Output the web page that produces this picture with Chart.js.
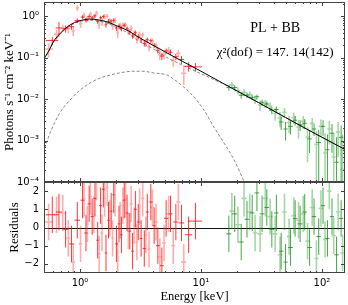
<!DOCTYPE html>
<html><head><meta charset="utf-8">
<script src="https://cdn.jsdelivr.net/npm/chart.js@4.4.1/dist/chart.umd.min.js"></script>
<style>
html,body{margin:0;padding:0;background:#fff;}
#wrap{position:relative;width:348px;height:305px;overflow:hidden;background:#fff;}
#c1{position:absolute;left:0;top:0;width:348px;height:192px;}
#c2{position:absolute;left:0;top:178px;width:348px;height:127px;}
</style></head><body>
<div id="wrap">
<canvas id="c2" width="348" height="127"></canvas>
<canvas id="c1" width="348" height="192"></canvas>
</div>
<script>
// ---------------- tick values / labels ----------------
const xTickValues = [1, 10, 100];
const xTickLabels = ['10\u2070', '10\u00b9', '10\u00b2'];
const yTickValues = [1e-4, 1e-3, 1e-2, 1e-1, 1];
const yTickLabels = ['10\u207b\u2074', '10\u207b\u00b3', '10\u207b\u00b2', '10\u207b\u00b9', '10\u2070'];
const resTickValues = [-2, -1, 0, 1, 2];

// ---------------- model curves ----------------
const modelE     = [0.5, 0.55, 0.6, 0.7, 0.8, 0.9, 1.0, 1.2, 1.4, 1.7, 2.0, 2.5, 3.0, 4.0, 5.0, 7.0, 10, 15, 20, 30, 50, 70, 100, 155];
const modelTotal = [0.092, 0.143, 0.236, 0.41, 0.574, 0.70, 0.78, 0.85, 0.82, 0.72, 0.59, 0.447, 0.32, 0.20, 0.14, 0.082, 0.047, 0.0246, 0.0156, 0.0082, 0.0036, 0.0021, 0.0012, 0.00061];
const modelPL    = [0.088, 0.137, 0.226, 0.39, 0.55, 0.67, 0.75, 0.80, 0.77, 0.67, 0.54, 0.39, 0.26, 0.165, 0.108, 0.066, 0.041, 0.0237, 0.0153, 0.0081, 0.0036, 0.0021, 0.0012, 0.00061];
const bbE = [0.494, 0.565, 0.68, 0.827, 1.0, 1.21, 1.46, 1.77, 2.14, 2.74, 3.31, 4.01, 5.24, 5.98, 7.23, 8.76, 10.6, 12.8, 15.5, 18.8, 21.1, 22.7, 25];
const bbF = [5.0e-4, 1.5e-3, 4.6e-3, 9.5e-3, 0.0165, 0.0244, 0.032, 0.038, 0.043, 0.047, 0.047, 0.043, 0.038, 0.030, 0.0194, 0.0112, 0.0054, 0.0021, 8.7e-4, 3.4e-4, 1.65e-4, 1.0e-4, 4e-5];

// ---------------- data: dark red ----------------
const redE   = [0.59,0.67,0.76,0.85,0.95,1.05,1.12,1.19,1.26,1.33,1.40,1.48,1.56,1.64,1.72,1.81,1.90,2.00,2.10,2.20,2.32,2.45,2.58,2.72,2.87,3.03,3.20,3.40,3.60,3.85,4.10,4.40,4.75,5.15,5.60,6.20,6.90,7.90,9.00];
const redDE  = [0.07,0.04,0.04,0.04,0.05,0.04,0.035,0.035,0.035,0.035,0.035,0.04,0.04,0.04,0.04,0.045,0.045,0.05,0.05,0.05,0.06,0.06,0.065,0.07,0.075,0.08,0.085,0.1,0.1,0.12,0.13,0.15,0.17,0.2,0.22,0.3,0.35,0.55,1.2];
const redF   = [0.26,0.52,0.50,0.56,0.78,0.95,0.80,0.98,0.91,1.02,0.75,0.92,0.98,0.62,0.755,0.76,0.79,0.52,0.58,0.50,0.60,0.51,0.42,0.335,0.40,0.32,0.266,0.22,0.27,0.257,0.198,0.15,0.109,0.145,0.135,0.105,0.09,0.062,0.060];
const redErr = [0.06,0.2,0.1,0.09,0.1,0.1,0.1,0.1,0.1,0.11,0.1,0.1,0.1,0.09,0.1,0.09,0.09,0.08,0.08,0.07,0.07,0.06,0.06,0.05,0.05,0.045,0.04,0.035,0.035,0.03,0.028,0.025,0.022,0.02,0.02,0.018,0.02,0.016,0.014];
const redRes = [0.7,0.85,-0.1,-0.9,0.4,1.5,-0.3,1.3,0.6,1.6,-0.7,1.2,2.1,-1.4,0.4,0.9,1.8,-0.9,0.2,-0.4,1.5,0.8,-0.2,-1.3,1.0,0.3,-0.6,-1.15,0.85,1.4,0.1,-1.0,-2.1,0.5,0.75,0.3,0.25,-0.4,0.35];

// ---------------- data: light red ----------------
const pinkE   = [0.55,0.64,0.72,0.80,0.88,0.95,1.01,1.08,1.15,1.22,1.30,1.37,1.44,1.52,1.60,1.68,1.76,1.86,1.95,2.05,2.15,2.26,2.38,2.51,2.65,2.80,2.95,3.11,3.30,3.50,3.72,3.97,4.25,4.57,4.95,5.40,5.90,6.50,7.20];
const pinkDE  = [0.05,0.03,0.03,0.03,0.03,0.03,0.03,0.03,0.035,0.035,0.035,0.035,0.035,0.04,0.04,0.04,0.04,0.045,0.045,0.05,0.05,0.055,0.06,0.065,0.07,0.07,0.075,0.08,0.09,0.1,0.11,0.12,0.13,0.15,0.17,0.2,0.22,0.25,0.35];
const pinkF   = [0.161,0.37,0.52,0.50,0.447,1.59,0.66,1.055,0.87,1.105,0.95,1.205,0.62,0.74,0.984,0.994,0.765,0.583,0.80,0.395,0.585,0.618,0.62,0.43,0.52,0.38,0.28,0.37,0.355,0.23,0.18,0.25,0.195,0.117,0.12,0.15,0.085,0.128,0.042];
const pinkErr = [0.06,0.1,0.1,0.12,0.12,0.25,0.14,0.15,0.14,0.15,0.15,0.15,0.13,0.15,0.14,0.12,0.13,0.12,0.12,0.1,0.1,0.09,0.09,0.08,0.08,0.07,0.06,0.06,0.05,0.05,0.04,0.04,0.035,0.03,0.03,0.03,0.025,0.025,0.02];
const pinkRes = [0.3,0.7,0.8,-0.6,-1.9,3.4,-0.9,1.6,0.2,1.7,0.7,2.5,-1.45,-0.3,1.6,2.2,0.5,-0.6,1.6,-1.8,0.4,1.2,1.55,-0.2,1.3,0.1,-0.8,1.15,1.6,-0.4,-1.2,1.1,0.3,-1.6,-0.85,0.75,-1.0,1.4,-1.9];

// ---------------- data: dark green ----------------
const grnE   = [17,19,21.5,24,26.5,29,32,35,38.5,42,46,50,55,60,66,72,79,86,94,102,111,121,132,144];
const grnDE  = [0.8,0.9,1.0,1.1,1.2,1.3,1.4,1.5,1.7,1.8,2,2,2.5,2.5,3,3,3.5,3.5,4,4,4.5,5,5.5,6];
const grnF   = [0.019,0.019,0.0124,0.0125,0.011,0.0114,0.0084,0.0076,0.0054,0.0056,0.0028,0.0019,0.0022,0.0031,0.0024,0.0026,0.0011,0.0019,0.0009,0.0022,0.0006,0.0015,0.0003,0.0012];
const grnErr = [0.003,0.0028,0.0022,0.0018,0.0016,0.0014,0.0013,0.0012,0.0011,0.001,0.001,0.0009,0.0008,0.0008,0.0007,0.0007,0.0006,0.0006,0.0009,0.0009,0.0008,0.001,0.0009,0.0011];
const grnRes = [-0.35,0.75,-0.8,0.45,0.8,1.9,0.75,1.1,-0.1,0.8,-1.3,-1.9,-1.1,0.5,0.2,0.85,-1.1,0.6,-0.5,1.2,-0.6,0.6,-1.5,0.5];

// ---------------- data: light green ----------------
const lgrnE   = [18,20.2,22.7,25.3,28,30.8,34,37.3,41,45,49,53.5,58.5,64,70,76,83,90,98,106,115,125,136,148];
const lgrnDE  = [0.8,1.0,1.1,1.2,1.3,1.4,1.6,1.7,1.8,2,2,2.3,2.5,2.7,3,3,3.5,3.5,4,4,4.5,5,5.5,6];
const lgrnF   = [0.022,0.016,0.0145,0.0128,0.0098,0.0072,0.0078,0.0068,0.0045,0.0035,0.0048,0.0027,0.0036,0.0021,0.0029,0.0012,0.0026,0.0008,0.0022,0.0005,0.0019,0.0004,0.0016,0.0002];
const lgrnErr = [0.004,0.003,0.0028,0.0025,0.0022,0.002,0.0018,0.0016,0.0015,0.0014,0.0013,0.0012,0.0011,0.001,0.001,0.0009,0.0009,0.0009,0.001,0.001,0.0011,0.0011,0.0012,0.0012];
const lgrnRes = [0.9,0.15,1.6,0.85,-0.3,-0.35,1.6,0.6,-0.35,-1.5,0.85,-0.5,0.65,0.4,0.75,-0.75,1.1,-1.7,1.05,-0.65,2.0,-0.45,0.85,-1.4];

// ---------------- helpers (build library tables) ----------------
function errSegments(E, dE, V, lo, hi) {
  const pts = [];
  for (let i = 0; i < E.length; i++) {
    pts.push({x: E[i], y: lo[i]}, {x: E[i], y: hi[i]}, {x: E[i], y: null});
    pts.push({x: E[i] - dE[i], y: V[i]}, {x: E[i] + dE[i], y: V[i]}, {x: E[i], y: null});
  }
  return pts;
}
function fluxBars(E, dE, F, Err) {
  const lo = F.map((f, i) => Math.max(f - Err[i], 1e-9));
  const hi = F.map((f, i) => f + Err[i]);
  return errSegments(E, dE, F, lo, hi);
}
function resBars(E, dE, R) {
  return errSegments(E, dE, R, R.map(r => r - 1), R.map(r => r + 1));
}
function curve(E, F) { return E.map((e, i) => ({x: e, y: F[i]})); }
function barSet(data, color, width, order) {
  return {type: 'line', data, borderColor: color, borderWidth: width, pointRadius: 0,
          fill: false, spanGaps: false, tension: 0, order};
}

const C_RED = 'rgba(255,20,20,0.85)', C_PINK = 'rgba(255,40,40,0.38)';
const C_GRN = 'rgba(20,140,20,0.78)', C_LGRN = 'rgba(20,150,20,0.38)';

Chart.defaults.font.family = "'DejaVu Sans', sans-serif";
Chart.defaults.font.size = 10;
Chart.defaults.color = '#000';
Chart.defaults.animation = false;

const X_MIN = 0.504, X_MAX = 155;

function fixAxisX(s, h) { s.height = h; s.paddingLeft = 0; s.paddingRight = 0; }
function fixAxisY(s) { s.width = 44; s.paddingTop = 0; s.paddingBottom = 0; }

function tickPlugin(yMajors, yMinorFn, isRes) {
  return {
    id: 'frameTicks' + (isRes ? 'R' : 'T'),
    beforeDatasetsDraw(chart) {
      if (!isRes) return;
      const {ctx, chartArea: a, scales: {y}} = chart;
      const py = Math.round(y.getPixelForValue(0)) + 0.5;
      ctx.save(); ctx.strokeStyle = '#111'; ctx.lineWidth = 1;
      ctx.beginPath(); ctx.moveTo(a.left, py); ctx.lineTo(a.right, py); ctx.stroke();
      ctx.restore();
    },
    afterDatasetsDraw(chart) {
      const {ctx, chartArea: a, scales: {x, y}} = chart;
      ctx.save();
      ctx.strokeStyle = '#444'; ctx.lineWidth = 1;
      ctx.beginPath();
      const xt = (v, len) => {
        if (v < X_MIN || v > X_MAX) return;
        const px = Math.round(x.getPixelForValue(v)) + 0.5;
        ctx.moveTo(px, a.bottom); ctx.lineTo(px, a.bottom - len);
        ctx.moveTo(px, a.top); ctx.lineTo(px, a.top + len);
      };
      const yt = (v, len) => {
        if (v < y.min || v > y.max) return;
        const py = Math.round(y.getPixelForValue(v)) + 0.5;
        ctx.moveTo(a.left, py); ctx.lineTo(a.left + len, py);
        ctx.moveTo(a.right, py); ctx.lineTo(a.right - len, py);
      };
      xTickValues.forEach(v => xt(v, 4));
      [0.1, 1, 10, 100].forEach(d => { for (let k = 2; k <= 9; k++) xt(k * d, 2); });
      yMajors.forEach(v => yt(v, 4));
      yMinorFn(yt);
      ctx.stroke();
      ctx.strokeStyle = '#444';
      ctx.strokeRect(a.left + 0.5, a.top + 0.5, a.right - a.left - 1, a.bottom - a.top - 1);
      ctx.restore();
    }
  };
}

const annot = {
  id: 'annot',
  afterDraw(chart) {
    const {ctx, chartArea: a} = chart;
    ctx.save();
    ctx.fillStyle = '#000';
    ctx.textAlign = 'center'; ctx.textBaseline = 'middle';
    const cx = a.left + 0.768 * (a.right - a.left);
    ctx.font = "14px 'Liberation Serif', serif";
    ctx.fillText('PL + BB', cx, 28);
    ctx.font = "13px 'Liberation Serif', serif";
    ctx.fillText('\u03c7\u00b2(dof) = 147. 14(142)', cx, 53);
    ctx.restore();
  }
};

// ---------------- top panel ----------------
new Chart(document.getElementById('c1'), {
  type: 'line',
  data: {
    datasets: [
      {type: 'line', data: curve(modelE, modelTotal), borderColor: '#000', borderWidth: 1, pointRadius: 0, cubicInterpolationMode: 'monotone', order: 0},
      {type: 'line', data: curve(modelE, modelPL), borderColor: '#888', borderWidth: 1, borderDash: [3, 2], pointRadius: 0, cubicInterpolationMode: 'monotone', order: 5},
      {type: 'line', data: curve(bbE, bbF), borderColor: '#888', borderWidth: 1, borderDash: [3, 2], pointRadius: 0, cubicInterpolationMode: 'monotone', order: 5},
      barSet(fluxBars(redE, redDE, redF, redErr), C_RED, 1, 2),
      barSet(fluxBars(pinkE, pinkDE, pinkF, pinkErr), C_PINK, 1.6, 3),
      barSet(fluxBars(grnE, grnDE, grnF, grnErr), C_GRN, 1, 2),
      barSet(fluxBars(lgrnE, lgrnDE, lgrnF, lgrnErr), C_LGRN, 1.6, 3)
    ]
  },
  options: {
    responsive: false, devicePixelRatio: 1,
    layout: {padding: {left: 0, right: 3, top: 2, bottom: 10}},
    plugins: {legend: {display: false}, tooltip: {enabled: false}},
    scales: {
      x: {type: 'logarithmic', min: X_MIN, max: X_MAX, display: false},
      y: {
        type: 'logarithmic', min: 1e-4, max: 2.2,
        grid: {display: false, drawTicks: false}, border: {display: false},
        afterBuildTicks: s => { s.ticks = yTickValues.map(v => ({value: v})); },
        afterFit: fixAxisY,
        ticks: {padding: 5, autoSkip: false, callback: (v, i) => yTickLabels[i]},
        title: {display: true, text: 'Photons s\u207b\u00b9 cm\u207b\u00b2 keV\u207b\u00b9',
                font: {family: "'Liberation Serif', serif", size: 13}, padding: {top: 2, bottom: 0}}
      }
    }
  },
  plugins: [tickPlugin(yTickValues, yt => {
    [1e-4, 1e-3, 1e-2, 1e-1, 1].forEach(d => { for (let k = 2; k <= 9; k++) yt(k * d, 2); });
  }, false), annot]
});

// ---------------- residual panel ----------------
new Chart(document.getElementById('c2'), {
  type: 'line',
  data: {
    datasets: [
      barSet(resBars(redE, redDE, redRes), C_RED, 1, 2),
      barSet(resBars(pinkE, pinkDE, pinkRes), C_PINK, 1.6, 3),
      barSet(resBars(grnE, grnDE, grnRes), C_GRN, 1, 2),
      barSet(resBars(lgrnE, lgrnDE, lgrnRes), C_LGRN, 1.6, 3)
    ]
  },
  options: {
    responsive: false, devicePixelRatio: 1,
    layout: {padding: {left: 0, right: 3, top: 4, bottom: 0}},
    plugins: {legend: {display: false}, tooltip: {enabled: false}},
    scales: {
      x: {
        type: 'logarithmic', min: X_MIN, max: X_MAX,
        grid: {display: false, drawTicks: false}, border: {display: false},
        afterBuildTicks: s => { s.ticks = xTickValues.map(v => ({value: v})); },
        afterFit: s => fixAxisX(s, 32),
        ticks: {padding: 4, autoSkip: false, maxRotation: 0, callback: (v, i) => xTickLabels[i]},
        title: {display: true, text: 'Energy [keV]', font: {family: "'Liberation Serif', serif", size: 12.5}, padding: {top: 0, bottom: 1}}
      },
      y: {
        min: -2.5, max: 2.5,
        grid: {display: false, drawTicks: false}, border: {display: false},
        afterBuildTicks: s => { s.ticks = resTickValues.map(v => ({value: v})); },
        afterFit: fixAxisY,
        ticks: {padding: 5, autoSkip: false, callback: v => String(v).replace('-', '\u2212')},
        title: {display: true, text: 'Residuals', font: {family: "'Liberation Serif', serif", size: 13}, padding: {top: 7, bottom: 0}}
      }
    }
  },
  plugins: [tickPlugin(resTickValues, () => {}, true)]
});
</script>
</body></html>
